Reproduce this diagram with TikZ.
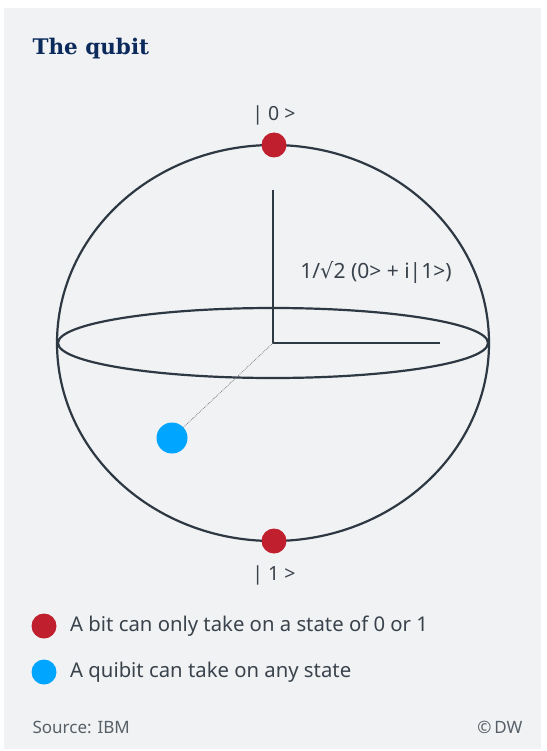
\documentclass[tikz,border=0pt]{standalone}
\usepackage{fontspec}
\setmainfont{Noto Sans}
\newfontfamily\titlefont{DejaVu Serif}
\newfontfamily\symfont{DejaVu Sans}
\usetikzlibrary{positioning}

\definecolor{panelgray}{HTML}{F0F2F4}
\definecolor{linegray}{HTML}{2E3842}
\definecolor{textgray}{HTML}{3A434C}
\definecolor{bitred}{HTML}{C0202E}
\definecolor{qublue}{HTML}{00A5FF}
\definecolor{titleblue}{HTML}{0C2B5C}

\tikzset{
    sphereline/.style={draw=linegray, line width=2.2pt},
    axisline/.style={draw=linegray, line width=2.2pt},
    statelabel/.style={text=textgray, font=\fontsize{19.5}{22}\selectfont},
    legendtext/.style={text=textgray, font=\fontsize{20.3}{24}\selectfont, anchor=west},
    bitdot/.style={circle, fill=bitred, minimum size=25pt, inner sep=0pt},
    qudot/.style={circle, fill=qublue, minimum size=31pt, inner sep=0pt},
}

\begin{document}
\begin{tikzpicture}[x=1pt, y=-1pt]

% 背景
\useasboundingbox (0,0) rectangle (546,751);
\fill[panelgray] (4,8) rectangle (541,749);

% 标题
\node[anchor=base west, text=titleblue, font=\titlefont\bfseries\fontsize{21.5}{24}\selectfont]
    (title) at (29,55) {The qubit};

% 球面
\coordinate (center) at (273,343);
\draw[sphereline] (center) ellipse [x radius=216, y radius=198];
\draw[sphereline] (center) ellipse [x radius=215, y radius=35];

% 坐标轴
\coordinate (ztop) at (273,190);
\coordinate (xend) at (440,343);
\draw[axisline] (ztop) -- (center) -- (xend);

% 状态点
\node[bitdot] (zero) at (274,145) {};
\node[bitdot] (one) at (274,541) {};
\node[qudot] (psi) at (172,438) {};
\draw[gray, densely dotted, line width=0.8pt] (center) -- (psi);

% 标签
\node[statelabel, above=4pt of zero] (zerolabel) {| 0 >};
\node[statelabel, below=8pt of one] (onelabel) {| 1 >};
\node[statelabel, font=\fontsize{21}{24}\selectfont] (superpos) at (376,273) {1/{\symfont√}2 (0> + i|1>)};

% 图例
\node[bitdot] (legbit) at (44,626) {};
\node[legendtext, right=10pt of legbit] (legbittext) {A bit can only take on a state of 0 or 1};
\node[qudot, minimum size=25pt] (legqu) at (44,672) {};
\node[legendtext, right=10pt of legqu] (legqutext) {A quibit can take on any state};

% 来源
\node[anchor=base west, text=textgray!85, font=\fontsize{17}{20}\selectfont] (source) at (29,733) {Source: IBM};
\node[anchor=base east, text=textgray!85, font=\fontsize{17}{20}\selectfont] (credit) at (526,733) {©\,DW};

\end{tikzpicture}
\end{document}
